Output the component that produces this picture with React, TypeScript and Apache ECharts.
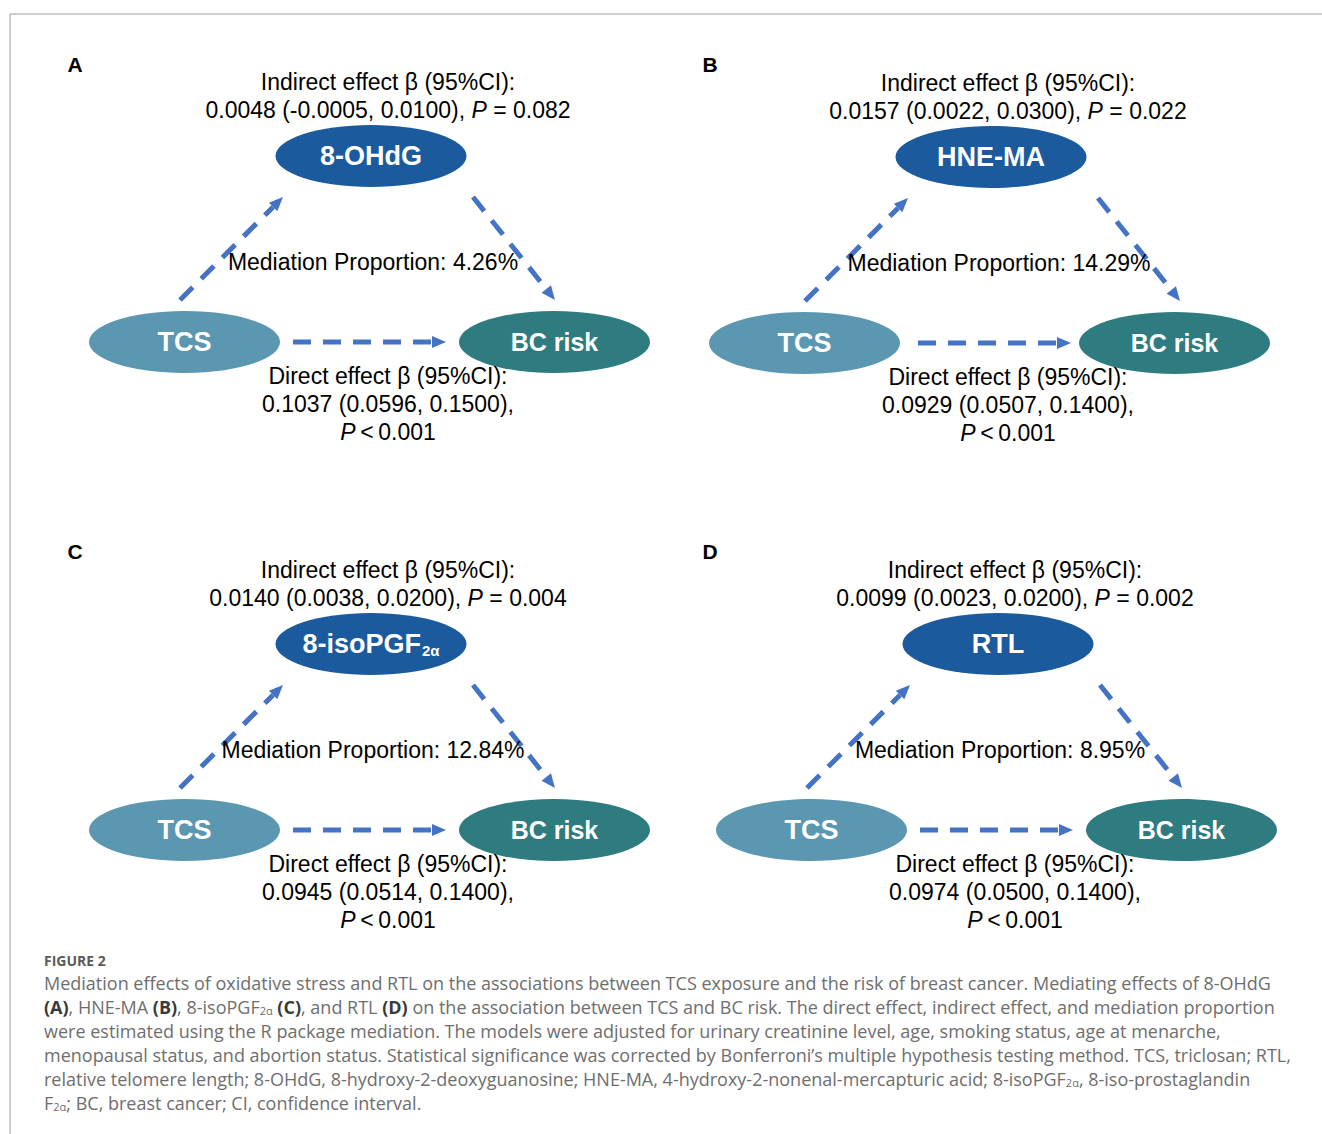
import React, { useEffect, useRef } from 'react';
import * as echarts from 'echarts';

// ---------------- data ----------------
const panelLetters = ['A', 'B', 'C', 'D'];
const mediatorNames = ['8-OHdG', 'HNE-MA', '8-isoPGF', 'RTL'];
const mediatorSubscripts = ['', '', '2α', ''];
const exposureName = 'TCS';
const outcomeName = 'BC risk';
const indirectBeta = ['0.0048', '0.0157', '0.0140', '0.0099'];
const indirectLower = ['-0.0005', '0.0022', '0.0038', '0.0023'];
const indirectUpper = ['0.0100', '0.0300', '0.0200', '0.0200'];
const indirectP = ['0.082', '0.022', '0.004', '0.002'];
const directBeta = ['0.1037', '0.0929', '0.0945', '0.0974'];
const directLower = ['0.0596', '0.0507', '0.0514', '0.0500'];
const directUpper = ['0.1500', '0.1400', '0.1400', '0.1400'];
const directP = ['0.001', '0.001', '0.001', '0.001'];
const mediationProportion = ['4.26%', '14.29%', '12.84%', '8.95%'];

const captionTitle = 'FIGURE 2';
const captionLines = [
  '{n|Mediation effects of oxidative stress and RTL on the associations between TCS exposure and the risk of breast cancer. Mediating effects of 8-OHdG}',
  '{b|(A)}{n|, HNE-MA }{b|(B)}{n|, 8-isoPGF}{s|2α}{n| }{b|(C)}{n|, and RTL }{b|(D)}{n| on the association between TCS and BC risk. The direct effect, indirect effect, and mediation proportion}',
  '{n|were estimated using the R package mediation. The models were adjusted for urinary creatinine level, age, smoking status, age at menarche,}',
  '{n|menopausal status, and abortion status. Statistical significance was corrected by Bonferroni\u2019s multiple hypothesis testing method. TCS, triclosan; RTL,}',
  '{n|relative telomere length; 8-OHdG, 8-hydroxy-2-deoxyguanosine; HNE-MA, 4-hydroxy-2-nonenal-mercapturic acid; 8-isoPGF}{s|2α}{n|, 8-iso-prostaglandin}',
  '{n|F}{s|2α}{n|; BC, breast cancer; CI, confidence interval.}',
];

// ---------------- layout / style ----------------
const FONT = 'Arial, "Liberation Sans", Helvetica, sans-serif';
const CAP_FONT = '"Open Sans", Lato, sans-serif';
const ARROW = '#4472C4';
const MED_COLOR = '#1B5A9D';
const EXP_COLOR = '#5B97B0';
const OUT_COLOR = '#2E7B80';

const panelLayout = [
  { dx: 0, dy: 0, adx: 0, mdx: 0, lx: 75, ly: 64 },
  { dx: 620, dy: 1, adx: 625, mdx: 626, lx: 710, ly: 64 },
  { dx: 0, dy: 488, adx: 0, mdx: 0, lx: 75, ly: 551 },
  { dx: 627, dy: 488, adx: 627, mdx: 627, lx: 710, ly: 551 },
];

const textRich = {
  n: { fontSize: 23, fontFamily: FONT, fill: '#000' },
  i: { fontSize: 23, fontFamily: FONT, fill: '#000', fontStyle: 'italic' },
};

function arrow(x1: number, y1: number, x2: number, y2: number) {
  const dx = x2 - x1;
  const dy = y2 - y1;
  const len = Math.hypot(dx, dy);
  const ux = dx / len;
  const uy = dy / len;
  const head = 14;
  const hw = 6;
  const bx = x2 - ux * head;
  const by = y2 - uy * head;
  return [
    {
      type: 'line',
      shape: { x1, y1, x2: bx, y2: by },
      style: { stroke: ARROW, lineWidth: 5, lineDash: [18, 12], lineCap: 'butt' },
    },
    {
      type: 'polygon',
      shape: {
        points: [
          [x2, y2],
          [bx - uy * hw, by + ux * hw],
          [bx + uy * hw, by - ux * hw],
        ],
      },
      style: { fill: ARROW },
    },
  ];
}

function centerText(x: number, y: number, text: string, rich: any = textRich) {
  return {
    type: 'text',
    style: { x, y, text, rich, align: 'center', verticalAlign: 'middle', fontSize: 23, fontFamily: FONT },
  };
}

function nodeEl(cx: number, cy: number, color: string, label: string, sub: string, size = 27) {
  const rich = {
    m: { fontSize: size, fontWeight: 'bold', fontFamily: FONT, fill: '#fff' },
    s: { fontSize: 15, fontWeight: 'bold', fontFamily: FONT, fill: '#fff', verticalAlign: 'bottom', padding: [0, 0, 0, 1] },
  };
  const text = sub ? `{m|${label}}{s|${sub}}` : `{m|${label}}`;
  return [
    { type: 'ellipse', shape: { cx, cy, rx: 95.5, ry: 31 }, style: { fill: color } },
    {
      type: 'text',
      style: { x: cx, y: cy, text, rich, align: 'center', verticalAlign: 'middle', fontSize: size, fontFamily: FONT },
    },
  ];
}

function buildElements() {
  const els: any[] = [];
  // frame
  els.push({ type: 'line', shape: { x1: 10, y1: 14, x2: 1322, y2: 14 }, style: { stroke: '#bdbdbd', lineWidth: 1.5 } });
  els.push({ type: 'line', shape: { x1: 10, y1: 14, x2: 10, y2: 1134 }, style: { stroke: '#bdbdbd', lineWidth: 1.5 } });

  panelLetters.forEach((letter, k) => {
    const L = panelLayout[k];
    const { dx, dy, adx } = L;
    els.push({
      type: 'text',
      style: { x: L.lx, y: L.ly, text: letter, fontSize: 21, fontWeight: 'bold', fontFamily: FONT, fill: '#000', align: 'center', verticalAlign: 'middle' },
    });
    // indirect effect text
    els.push(centerText(388 + dx, 82 + dy, '{n|Indirect effect β (95%CI):}'));
    els.push(centerText(388 + dx, 110 + dy,
      `{n|${indirectBeta[k]} (${indirectLower[k]}, ${indirectUpper[k]}), }{i|P}{n| = ${indirectP[k]}}`));
    // arrows
    els.push(...arrow(180 + adx, 300 + dy, 283 + adx, 197 + dy));
    els.push(...arrow(473 + adx, 197 + dy, 555 + adx, 300 + dy));
    els.push(...arrow(293 + adx, 342 + dy, 446 + adx, 342 + dy));
    // nodes
    els.push(...nodeEl(371 + dx, 156 + dy, MED_COLOR, mediatorNames[k], mediatorSubscripts[k]));
    els.push(...nodeEl(184.5 + dx, 342 + dy, EXP_COLOR, exposureName, ''));
    els.push(...nodeEl(554.5 + dx, 342 + dy, OUT_COLOR, outcomeName, '', 25));
    // mediation proportion
    els.push(centerText(373 + L.mdx, 262 + dy, `{n|Mediation Proportion: ${mediationProportion[k]}}`));
    // direct effect
    els.push(centerText(388 + dx, 376 + dy, '{n|Direct effect β (95%CI):}'));
    els.push(centerText(388 + dx, 404 + dy, `{n|${directBeta[k]} (${directLower[k]}, ${directUpper[k]}),}`));
    els.push(centerText(388 + dx, 432 + dy, `{i|P}{n|\u2009<\u2009${directP[k]}}`));
  });

  // caption
  els.push({
    type: 'text',
    style: { x: 44, y: 960, text: captionTitle, fontSize: 14, fontWeight: 'bold', fontFamily: CAP_FONT, fill: '#5a5a5a', align: 'left', verticalAlign: 'middle' },
  });
  const capRich = {
    n: { fontSize: 18, fontFamily: CAP_FONT, fill: '#6e6e6e' },
    b: { fontSize: 18, fontFamily: CAP_FONT, fill: '#3a3a3a', fontWeight: 'bold' },
    s: { fontSize: 11, fontFamily: CAP_FONT, fill: '#6e6e6e', verticalAlign: 'bottom' },
  };
  captionLines.forEach((line, i) => {
    els.push({
      type: 'text',
      style: { x: 44, y: 983 + i * 24, text: line, rich: capRich, fontSize: 18, fontFamily: CAP_FONT, align: 'left', verticalAlign: 'middle' },
    });
  });
  return els;
}

export default function App() {
  const ref = useRef<HTMLDivElement>(null);
  useEffect(() => {
    if (!ref.current) return;
    const chart = echarts.init(ref.current, null, { renderer: 'svg' });
    chart.setOption({ animation: false, backgroundColor: '#fff', graphic: { elements: buildElements() } });
    return () => chart.dispose();
  }, []);
  return (
    <div
      ref={ref}
      style={{ position: 'fixed', left: 0, top: 0, width: 1322, height: 1134, background: '#fff' }}
    />
  );
}
